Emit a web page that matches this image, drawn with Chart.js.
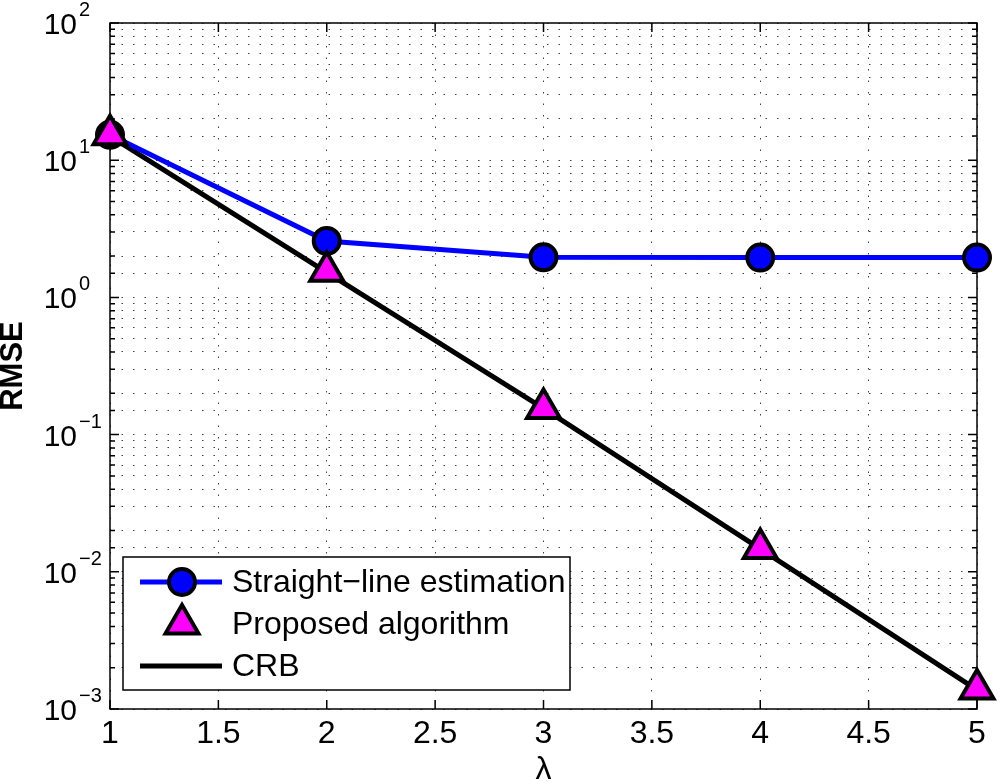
<!DOCTYPE html>
<html>
<head>
<meta charset="utf-8">
<script src="https://cdn.jsdelivr.net/npm/chart.js@4.4.1/dist/chart.umd.min.js"></script>
<style>
  html, body { margin: 0; padding: 0; background: #fff; }
  #wrap { width: 1000px; height: 782px; position: relative; }
</style>
</head>
<body>
<div id="wrap"><canvas id="rmse-chart"></canvas></div>
<script>
// values
const lambdas = [1, 2, 3, 4, 5];
const straightLine = [15.3, 2.58, 1.96, 1.95, 1.95];
const proposed = [15.3, 1.55, 0.155, 0.0148, 0.0014];
const crb = [15, 1.52, 0.155, 0.0147, 0.00138];

const seriesNames = ["Straight\u2212line estimation", "Proposed algorithm", "CRB"];
const FONT = "'Liberation Sans', Arial, Helvetica, sans-serif";

function toPoints(ys) {
  return lambdas.map((x, i) => ({ x: x, y: ys[i] }));
}

// box, inward tick marks and 10^n labels like the matlab axes
const axesBox = {
  id: "axesBox",
  beforeDatasetsDraw(chart) {
    const ctx = chart.ctx;
    const a = chart.chartArea;
    const xs = chart.scales.x;
    const ys = chart.scales.y;
    ctx.save();
    ctx.strokeStyle = "#000";
    ctx.lineWidth = 1.5;
    ctx.strokeRect(a.left, a.top, a.right - a.left, a.bottom - a.top);
    ctx.beginPath();
    xs.ticks.forEach(t => {
      const px = xs.getPixelForValue(t.value);
      ctx.moveTo(px, a.bottom); ctx.lineTo(px, a.bottom - 9);
      ctx.moveTo(px, a.top); ctx.lineTo(px, a.top + 9);
    });
    ys.ticks.forEach(t => {
      const py = ys.getPixelForValue(t.value);
      const len = t.major ? 9 : 5;
      ctx.moveTo(a.left, py); ctx.lineTo(a.left + len, py);
      ctx.moveTo(a.right, py); ctx.lineTo(a.right - len, py);
    });
    ctx.stroke();

    // y tick labels
    ctx.fillStyle = "#000";
    ctx.textBaseline = "alphabetic";
    ys.ticks.filter(t => t.major).forEach(t => {
      const py = ys.getPixelForValue(t.value);
      const e = Math.round(Math.log10(t.value));
      const expText = e < 0 ? "\u2212" + (-e) : String(e);
      ctx.font = "30px " + FONT;
      ctx.textAlign = "right";
      ctx.fillText("10", 77, py + 11);
      ctx.font = "20px " + FONT;
      ctx.textAlign = "left";
      ctx.fillText(expText, 79, py - 7);
    });
    ctx.restore();
  }
};

// legend drawn like the matlab one
const boxLegend = {
  id: "boxLegend",
  afterDatasetsDraw(chart) {
    const ctx = chart.ctx;
    const left = 123, top = 557, w = 447, h = 133;
    const rows = [582, 624, 666];
    ctx.save();
    ctx.fillStyle = "#fff";
    ctx.fillRect(left, top, w, h);
    ctx.strokeStyle = "#000";
    ctx.lineWidth = 1.5;
    ctx.strokeRect(left, top, w, h);
    chart.data.datasets.forEach((ds, i) => {
      const y = rows[i];
      if (ds.showLine !== false) {
        ctx.strokeStyle = ds.borderColor;
        ctx.lineWidth = ds.borderWidth;
        ctx.beginPath();
        ctx.moveTo(140, y); ctx.lineTo(222, y);
        ctx.stroke();
      }
      if (ds.pointRadius > 0) {
        ctx.fillStyle = ds.pointBackgroundColor;
        ctx.strokeStyle = ds.pointBorderColor;
        ctx.lineWidth = ds.pointBorderWidth;
        const r = ds.pointRadius;
        const cx = 182;
        ctx.beginPath();
        if (ds.pointStyle === "triangle") {
          ctx.moveTo(cx, y - r);
          ctx.lineTo(cx + r * Math.sqrt(3) / 2, y + r / 2);
          ctx.lineTo(cx - r * Math.sqrt(3) / 2, y + r / 2);
          ctx.closePath();
        } else {
          ctx.arc(cx, y, r, 0, Math.PI * 2);
        }
        ctx.fill();
        ctx.stroke();
      }
      ctx.fillStyle = "#000";
      ctx.font = "32px " + FONT;
      ctx.textAlign = "left";
      ctx.textBaseline = "middle";
      ctx.fillText(ds.label, 232, y + 1);
    });
    ctx.restore();
  }
};

const config = {
  type: "line",
  data: {
    datasets: [
      {
        label: seriesNames[0],
        data: toPoints(straightLine),
        borderColor: "#0000ff",
        borderWidth: 5,
        pointStyle: "circle",
        pointRadius: 13,
        pointBackgroundColor: "#0000ff",
        pointBorderColor: "#000",
        pointBorderWidth: 4,
        order: 1,
        clip: false,
      },
      {
        label: seriesNames[1],
        data: toPoints(proposed),
        showLine: false,
        borderColor: "#000",
        pointStyle: "triangle",
        pointRadius: 19,
        pointBackgroundColor: "#ff00ff",
        pointBorderColor: "#000",
        pointBorderWidth: 4,
        order: 0,
        clip: false,
      },
      {
        label: seriesNames[2],
        data: toPoints(crb),
        borderColor: "#000",
        borderWidth: 5,
        pointRadius: 0,
        order: 2,
        clip: false,
      },
    ],
  },
  options: {
    responsive: true,
    maintainAspectRatio: false,
    animation: false,
    events: [],
    layout: { padding: { top: 23, right: 21, left: 0, bottom: 0 } },
    plugins: {
      legend: { display: false },
      tooltip: { enabled: false },
    },
    elements: { line: { tension: 0 } },
    scales: {
      x: {
        type: "linear",
        min: 1,
        max: 5,
        ticks: {
          stepSize: 0.5,
          color: "#000",
          padding: 6,
          font: { family: FONT, size: 32 },
          callback: value => String(Number(value)),
        },
        grid: { color: "rgba(0,0,0,0.75)", lineWidth: 1, drawTicks: false },
        border: { display: false, dash: [1.5, 10] },
        title: {
          display: true,
          text: "\u03bb",
          color: "#000",
          font: { family: FONT, size: 32, lineHeight: 1 },
          padding: { top: 0, bottom: -4 },
        },
        afterFit(scale) { scale.height = 73; },
      },
      y: {
        type: "logarithmic",
        min: 0.001,
        max: 100,
        ticks: { display: false, autoSkip: false },
        grid: { color: "rgba(0,0,0,0.75)", lineWidth: 1, drawTicks: false },
        border: { display: false, dash: [1.5, 10] },
        title: {
          display: true,
          text: "RMSE",
          color: "#000",
          font: { family: FONT, size: 31, weight: "bold", lineHeight: 1 },
          padding: { top: -2, bottom: 0 },
        },
        afterFit(scale) { scale.width = 110; },
      },
    },
  },
  plugins: [axesBox, boxLegend],
};

const rmseChart = new Chart(document.getElementById("rmse-chart").getContext("2d"), config);
</script>
</body>
</html>
